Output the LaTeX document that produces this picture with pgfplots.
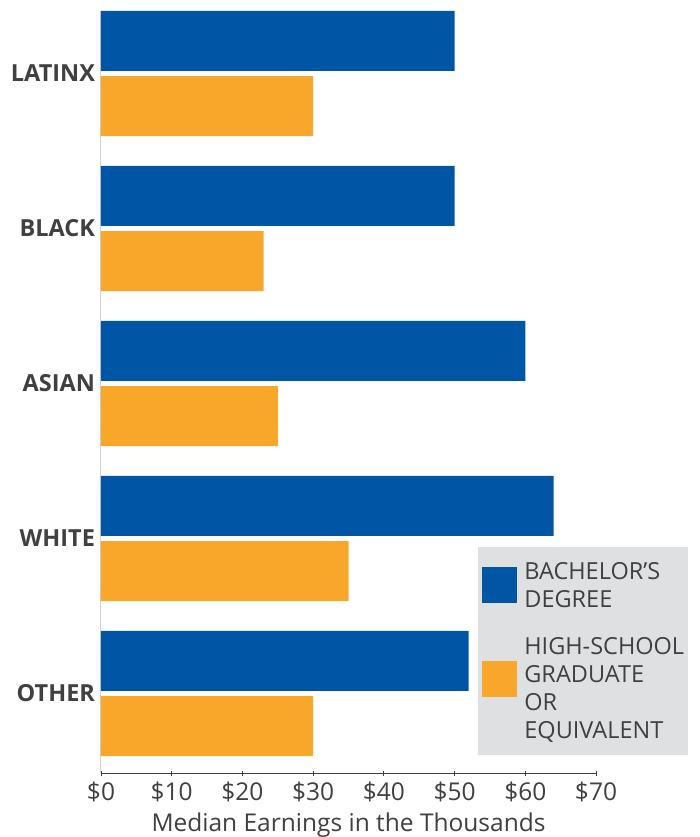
\documentclass[border=0pt]{standalone}
\usepackage{fontspec}
\setmainfont{Open Sans}
\usepackage{pgfplots}
\pgfplotsset{compat=1.18}
\definecolor{barblue}{HTML}{0055A5}
\definecolor{barorange}{HTML}{F9A72B}
\definecolor{legbg}{HTML}{DFE0E2}
\definecolor{txt}{HTML}{404040}
\begin{document}
\begin{tikzpicture}
\begin{axis}[
  scale only axis, width=495pt, height=762pt,
  xbar, xmin=0, xmax=70, ymin=-0.513, ymax=4.403,
  bar width=0.387,
  axis x line*=bottom, axis y line*=left,
  x axis line style={draw=txt, line width=1pt, -},
  y axis line style={draw=gray!35, line width=1pt, -},
  xtick={0,10,...,70},
  xticklabels={\$0,\$10,\$20,\$30,\$40,\$50,\$60,\$70},
  ytick={0,1,2,3,4},
  yticklabels={OTHER,WHITE,ASIAN,BLACK,LATINX},
  ytick style={draw=none},
  xtick style={draw=txt, line width=0.8pt},
  major tick length=5pt, tick align=center,
  yticklabel style={font=\fontsize{23.5}{23.5}\selectfont\bfseries, text=txt},
  xticklabel style={font=\fontsize{24.5}{24.5}\selectfont, text=txt, yshift=-3pt},
  xlabel={Median Earnings in the Thousands},
  xlabel style={font=\fontsize{24.5}{24.5}\selectfont, text=txt, yshift=-4pt},
  clip=false,
  legend style={at={(0.762,0.2966)}, anchor=north west, fill=legbg, draw=none,
    inner xsep=4pt, inner ysep=15pt, row sep=29pt,
    font=\fontsize{23.5}{28}\selectfont, text=txt,
    nodes={inner sep=0pt},
    cells={align=left, anchor=west}},
  legend cell align=left,
]
\addplot[fill=barblue, draw=none, bar shift=0.21,
  legend image code/.code={\fill[barblue] (0pt,-18pt) rectangle (35pt,18pt); \path (42pt,0pt);}]
  coordinates {(52,0) (64,1) (60,2) (50,3) (50,4)};
\addlegendentry{BACHELOR’S\\DEGREE}
\addplot[fill=barorange, draw=none, bar shift=-0.21,
  legend image code/.code={\fill[barorange] (0pt,-8pt) rectangle (35pt,28pt); \path (42pt,0pt);}]
  coordinates {(30,0) (35,1) (25,2) (23,3) (30,4)};
\addlegendentry{HIGH-SCHOOL\\GRADUATE\\OR\\EQUIVALENT\hspace*{6pt}}
\end{axis}
\pgfresetboundingbox
\path ([shift={(-101pt,-64pt)}]current axis.south west) rectangle ([shift={(103pt,11pt)}]current axis.north east);
\end{tikzpicture}
\end{document}
